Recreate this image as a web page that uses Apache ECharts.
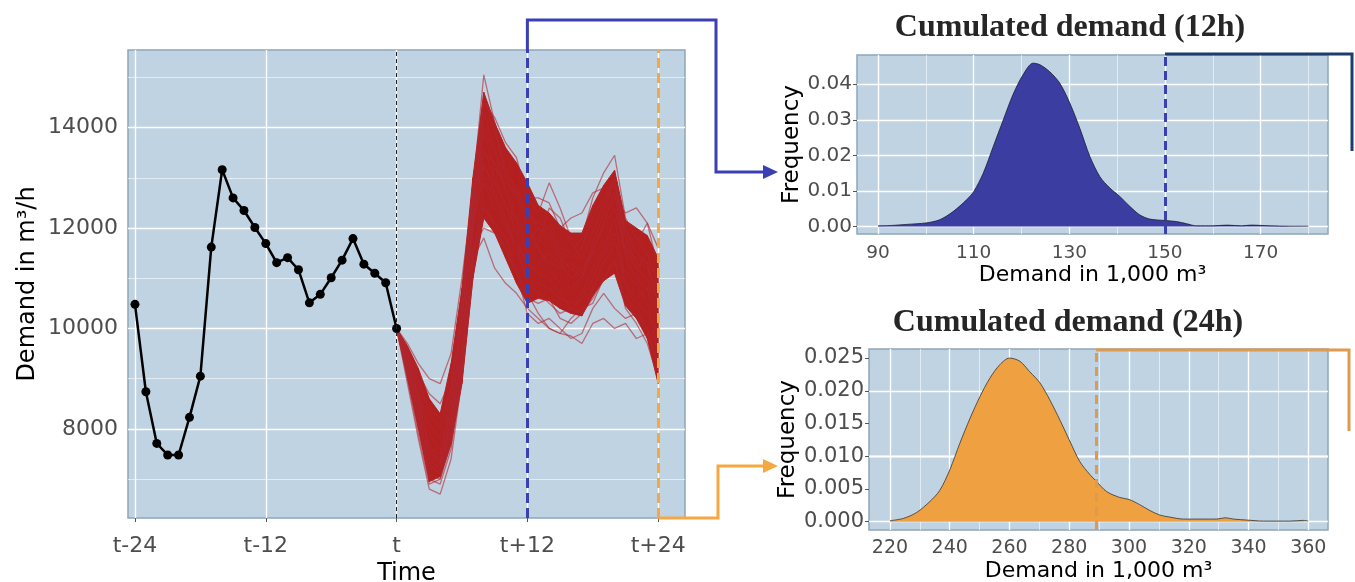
<!DOCTYPE html>
<html>
<head>
<meta charset="utf-8">
<script src="https://cdn.jsdelivr.net/npm/echarts@6/dist/echarts.min.js"></script>
<style>
html, body { margin: 0; padding: 0; background: #fff; }
#main { width: 1355px; height: 582px; }
</style>
</head>
<body>
<div id="main"></div>
<script>
// observed demand, t-24 .. t
var hoursPast = [-24,-23,-22,-21,-20,-19,-18,-17,-16,-15,-14,-13,-12,-11,-10,-9,-8,-7,-6,-5,-4,-3,-2,-1,0];
var observed = [10480,8740,7710,7480,7480,8230,9050,11620,13160,12600,12350,12010,11690,11310,11410,11170,10510,10680,11010,11360,11790,11280,11100,10910,10000];

// forecast scenarios, t .. t+24
var hoursAhead = [0,1,2,3,4,5,6,7,8,9,10,11,12,13,14,15,16,17,18,19,20,21,22,23,24];
var bandLow  = [10000,9000,8000,6950,7050,7700,8900,11000,12200,11900,11400,10900,10500,10600,10550,10400,10300,10250,10650,10950,11100,10450,10200,9800,8900];
var bandHigh = [10000,9650,9200,8600,8300,9300,10800,13000,14700,14100,13600,13300,12900,12450,12300,12050,11900,11900,12450,12850,13150,12150,12000,11850,11400];
var scenarios = [
  [10000,9500,8600,7500,7400,8600,10400,12800,15050,14100,13000,12600,12300,12100,12000,11600,11500,11800,12600,13100,13450,12200,11800,11500,10900],
  [10000,9700,9300,9000,8900,9500,11000,12700,13900,13200,12900,12700,12600,12300,12900,12400,11800,11600,12400,12800,12800,11900,11700,12100,11200],
  [10000,8900,7800,6800,6700,7400,9000,11000,12500,12000,11600,11100,10700,10300,10000,9900,10200,10400,10500,11000,11400,10400,10100,9700,9000],
  [10000,9200,8300,7400,7200,8000,9500,11400,11800,11200,10900,10700,10400,10200,10000,9900,9850,9700,10100,10200,10000,10100,9800,9900,9300],
  [10000,9400,8700,7900,7600,8400,10100,12400,14300,13600,12700,12100,11500,11700,12400,12200,11700,11400,11900,12500,13000,11800,11300,11200,10500],
  [10000,9300,8500,7700,7300,8100,9700,11900,13300,12700,12200,11500,11000,10900,10800,10600,10500,10700,11200,11600,12200,10900,10600,10800,9800],
  [10000,9600,9000,8300,8000,8800,10500,12900,14500,14200,13700,13400,12600,12600,12500,12000,12200,12300,12700,12800,12600,12300,12400,12100,11600],
  [10000,9100,8100,7100,7000,7800,9200,11300,12900,12400,12000,11700,11300,11100,11000,10700,10400,10300,10800,11300,11700,11100,10900,10500,9500],
  [10000,9500,8800,8100,7800,8700,10300,12100,13600,13000,12400,12200,12100,11600,11300,11200,11300,11100,11600,12000,12400,11600,11200,11500,10800],
  [10000,9400,8600,7600,7500,8300,10000,11600,12000,11900,11600,11100,10300,10100,10200,10000,9800,9900,10400,10700,10400,10200,10300,10000,9600],
  [10000,9200,8400,7300,7100,7900,9600,12000,14000,13500,13100,12800,12300,12000,11800,11400,11200,11000,11500,12100,12700,11400,11000,10800,10200],
  [10000,9600,9100,8700,8500,9000,10600,12500,13200,12900,12500,11900,11100,11300,11500,11300,11000,11200,11500,11700,11900,11600,11400,11300,10700],
  [10000,9000,7900,6900,7000,7700,9300,12200,14700,13900,13200,12700,12000,11600,11200,10900,10800,11000,11700,12300,13000,11500,11200,11000,10300],
  [10000,9300,8400,7200,7300,8200,10200,12600,13500,13300,12800,12200,11700,12000,11900,11500,11400,11600,12200,12600,12900,12000,11500,11300,10500],
  [10000,9500,8900,8400,8200,8800,10200,12200,13000,12600,12100,11700,10900,10700,10500,10300,10400,10600,11000,11500,11800,10800,10500,10300,9900],
  [10000,9100,8200,7000,6900,7600,9100,11500,12400,12100,11800,11200,10600,10500,10600,10200,10100,10300,10600,11000,11300,10600,10400,10000,9200]
];
var timeTicks = [-24,-12,0,12,24];
var timeTickLabels = ['t-24','t-12','t','t+12','t+24'];
var demandTicks = [8000,10000,12000,14000];
var demandMinor = [7000,9000,11000,13000,15000];

// cumulated demand densities
var demand12 = [90,92.8,96,100,102.9,105.7,108.5,110,112,114.1,116.2,118.2,120.3,122.4,123.8,125.9,128,130.1,132.2,134.3,136.4,138.5,140.6,142.7,144.7,146.8,150,152.4,154.5,156.6,160,163,166,168,172,176,180];
var freq12 = [0.0002,0.0003,0.0006,0.001,0.0019,0.0042,0.0075,0.0098,0.015,0.0225,0.030,0.037,0.0426,0.0459,0.0455,0.0435,0.0403,0.0347,0.0276,0.0197,0.014,0.0108,0.0084,0.0056,0.0033,0.0021,0.0017,0.0014,0.0008,0.0002,0.0002,0.0004,0.0002,0.0004,0.0002,0.0001,0.0001];
var demand24 = [220,224.5,228.9,233.4,236.7,240,243.4,246.8,250.1,253.4,256.8,260,263.5,266.8,270.2,273.5,276.9,280,283.5,286.9,289,292.5,296.9,300,303.6,307,310.4,313.7,318.2,323.8,329.4,332.2,335,339.4,345,353.8,358.2,360];
var freq24 = [0.00015,0.0005,0.0014,0.0031,0.0048,0.0079,0.012,0.0158,0.0191,0.0219,0.024,0.025,0.0245,0.0229,0.0212,0.0186,0.0155,0.0125,0.0092,0.0072,0.0062,0.0046,0.0037,0.0034,0.0026,0.0017,0.001,0.0007,0.0004,0.0004,0.0004,0.0006,0.0004,0.00025,0.0001,0.0001,0.0002,0.0001];
var ticks12 = [90,110,130,150,170];
var minor12 = [100,120,140,160,180];
var freqTicks12 = [0,0.01,0.02,0.03,0.04];
var freqMinor12 = [0.005,0.015,0.025,0.035,0.045];
var ticks24 = [220,240,260,280,300,320,340,360];
var minor24 = [230,250,270,290,310,330,350];
var freqTicks24 = [0,0.005,0.01,0.015,0.02,0.025];
var freqMinor24 = [0.0025,0.0075,0.0125,0.0175,0.0225];
var cut12 = 150;
var cut24 = 289;

var panelBg = '#bfd3e2';
var blue = '#3a3fb2';
var orange = '#f5a742';
var orange2 = '#e09a4e';
var navy = '#1d3d6e';
var tickFont = 'DejaVu Sans';

function pairs(xs, ys) {
  return xs.map(function (x, i) { return [x, ys[i]]; });
}

// white ggplot-style grid lines, as markLines (kept under the data)
function gridLines(xMajor, xMinor, yMajor, yMinor) {
  var d = [];
  xMinor.forEach(function (v) { d.push({ xAxis: v, lineStyle: { color: '#f2f6f9', width: 0.7, type: 'solid' } }); });
  yMinor.forEach(function (v) { d.push({ yAxis: v, lineStyle: { color: '#f2f6f9', width: 0.7, type: 'solid' } }); });
  xMajor.forEach(function (v) { d.push({ xAxis: v, lineStyle: { color: '#ffffff', width: 1.4, type: 'solid' } }); });
  yMajor.forEach(function (v) { d.push({ yAxis: v, lineStyle: { color: '#ffffff', width: 1.4, type: 'solid' } }); });
  return { z: 1, silent: true, symbol: 'none', label: { show: false }, animation: false, data: d };
}

function cutLines(items) {
  return { z: 10, silent: true, symbol: 'none', label: { show: false }, animation: false, data: items };
}

function valueAxis(idx, min, max, ticks, fmt, fontSize, margin, name, nameGap, nameSize, vertical) {
  return {
    type: 'value', gridIndex: idx, min: min, max: max,
    name: name, nameLocation: 'middle', nameGap: nameGap, nameRotate: vertical ? 90 : 0,
    nameTextStyle: { fontFamily: tickFont, fontSize: nameSize, color: '#000' },
    axisLine: { show: false },
    axisTick: { show: true, customValues: ticks, length: 4, lineStyle: { color: '#555', width: 1 } },
    axisLabel: { customValues: ticks, formatter: fmt, fontFamily: tickFont, fontSize: fontSize, color: '#4d4d4d', margin: margin },
    splitLine: { show: false }
  };
}

// dense part of the scenario bundle, drawn as a filled band between bandLow and bandHigh
function renderBand(params, api) {
  var i = params.dataIndex;
  if (i >= hoursAhead.length - 1) return null;
  var pts = [
    api.coord([hoursAhead[i], bandLow[i]]),
    api.coord([hoursAhead[i + 1], bandLow[i + 1]]),
    api.coord([hoursAhead[i + 1], bandHigh[i + 1]]),
    api.coord([hoursAhead[i], bandHigh[i]])
  ];
  return {
    type: 'polygon',
    shape: { points: pts },
    style: { fill: '#b41f1f', stroke: '#b41f1f', lineWidth: 1 }
  };
}

var chart = echarts.init(document.getElementById('main'));

var series = [
  { type: 'line', xAxisIndex: 0, yAxisIndex: 0, data: [], z: 1, markLine: gridLines(timeTicks, [], demandTicks, demandMinor) },
  { type: 'line', xAxisIndex: 1, yAxisIndex: 1, data: [], z: 1, markLine: gridLines(ticks12, minor12, freqTicks12, freqMinor12) },
  { type: 'line', xAxisIndex: 2, yAxisIndex: 2, data: [], z: 1, markLine: gridLines(ticks24, minor24, freqTicks24, freqMinor24) },
  {
    type: 'custom', xAxisIndex: 0, yAxisIndex: 0, renderItem: renderBand, z: 2, silent: true,
    data: hoursAhead.map(function (h, i) { return [h, bandLow[i], bandHigh[i]]; }),
    encode: { x: 0, y: [1, 2] }
  }
];
scenarios.forEach(function (s) {
  series.push({ type: 'line', xAxisIndex: 0, yAxisIndex: 0, data: pairs(hoursAhead, s), symbol: 'none', lineStyle: { color: 'rgba(176,40,48,0.6)', width: 1.3 }, z: 3, silent: true });
});
series.push({
  type: 'line', xAxisIndex: 0, yAxisIndex: 0, data: pairs(hoursPast, observed),
  symbol: 'circle', symbolSize: 9, itemStyle: { color: '#000' }, lineStyle: { color: '#000', width: 2.5 }, z: 4
});
series.push({
  type: 'line', xAxisIndex: 0, yAxisIndex: 0, data: [], z: 5,
  markLine: cutLines([
    { xAxis: 0, lineStyle: { color: '#222', width: 1, type: [4, 3] } },
    { xAxis: 12, lineStyle: { color: blue, width: 3, type: [10, 5] } },
    { xAxis: 24, lineStyle: { color: orange, width: 3, type: [10, 5] } }
  ])
});
series.push({
  type: 'line', xAxisIndex: 1, yAxisIndex: 1, data: pairs(demand12, freq12), symbol: 'none', smooth: 0.3,
  lineStyle: { color: '#1a1a3a', width: 0.8 }, areaStyle: { color: '#3b3da1', opacity: 1 }, z: 2,
  markLine: cutLines([{ xAxis: cut12, lineStyle: { color: blue, width: 3, type: [9, 5] } }])
});
series.push({
  type: 'line', xAxisIndex: 2, yAxisIndex: 2, data: pairs(demand24, freq24), symbol: 'none', smooth: 0.3,
  lineStyle: { color: '#333', width: 0.8 }, areaStyle: { color: '#efa040', opacity: 1 }, z: 2,
  markLine: cutLines([{ xAxis: cut24, lineStyle: { color: orange2, width: 3, type: [9, 5] } }])
});

chart.setOption({
  animation: false,
  backgroundColor: '#fff',
  grid: [
    { left: 128, top: 50, width: 557, height: 468, outerBoundsMode: 'none', containLabel: false, show: true, backgroundColor: panelBg, borderColor: '#8ea6b8', borderWidth: 1.5 },
    { left: 857, top: 55, width: 471, height: 179, outerBoundsMode: 'none', containLabel: false, show: true, backgroundColor: panelBg, borderColor: '#8ea6b8', borderWidth: 1.5 },
    { left: 869, top: 349, width: 459, height: 181, outerBoundsMode: 'none', containLabel: false, show: true, backgroundColor: panelBg, borderColor: '#8ea6b8', borderWidth: 1.5 }
  ],
  xAxis: [
    valueAxis(0, -24.64, 26.46, timeTicks, function (v) { return timeTickLabels[timeTicks.indexOf(v)]; }, 22, 17, 'Time', 43, 24, false),
    valueAxis(1, 85.6, 184.1, ticks12, function (v) { return String(v); }, 18.5, 10, 'Demand in 1,000 m³', 30, 22, false),
    valueAxis(2, 212.98, 366.6, ticks24, function (v) { return String(v); }, 19, 9, 'Demand in 1,000 m³', 30, 22, false)
  ],
  yAxis: [
    valueAxis(0, 6225, 15546, demandTicks, function (v) { return String(v); }, 22, 10, 'Demand in m³/h', 88, 24, true),
    valueAxis(1, -0.0021, 0.0482, freqTicks12, function (v) { return v.toFixed(2); }, 20, 5, 'Frequency', 47, 23, true),
    valueAxis(2, -0.00127, 0.02638, freqTicks24, function (v) { return v.toFixed(3); }, 21, 5, 'Frequency', 63, 23, true)
  ],
  series: series
});

// connector arrows between panels
var x12 = chart.convertToPixel({ xAxisIndex: 0 }, 12);
var x24 = chart.convertToPixel({ xAxisIndex: 0 }, 24);
var xc12 = chart.convertToPixel({ xAxisIndex: 1 }, cut12);
var xc24 = chart.convertToPixel({ xAxisIndex: 2 }, cut24);

chart.setOption({
  graphic: [
    { type: 'polyline', z: 100, shape: { points: [[x12, 50], [x12, 20], [716, 20], [716, 172], [766, 172]] }, style: { stroke: blue, lineWidth: 3, fill: null } },
    { type: 'polygon', z: 100, shape: { points: [[763, 165], [778, 172], [763, 179]] }, style: { fill: blue } },
    { type: 'polyline', z: 100, shape: { points: [[x24, 518], [718, 518], [718, 466], [766, 466]] }, style: { stroke: orange, lineWidth: 3, fill: null } },
    { type: 'polygon', z: 100, shape: { points: [[763, 459], [778, 466], [763, 473]] }, style: { fill: orange } },
    { type: 'polyline', z: 100, shape: { points: [[xc12, 54], [1352, 54], [1352, 151]] }, style: { stroke: navy, lineWidth: 3, fill: null } },
    { type: 'polyline', z: 100, shape: { points: [[xc24, 350], [1349, 350], [1349, 431]] }, style: { stroke: orange2, lineWidth: 3, fill: null } },
    { type: 'text', z: 100, x: 1070, y: 28, style: { text: 'Cumulated demand (12h)', fontFamily: 'Liberation Serif', fontWeight: 'bold', fontSize: 32, fill: '#262626', textAlign: 'center', textVerticalAlign: 'middle' } },
    { type: 'text', z: 100, x: 1068, y: 323, style: { text: 'Cumulated demand (24h)', fontFamily: 'Liberation Serif', fontWeight: 'bold', fontSize: 32, fill: '#262626', textAlign: 'center', textVerticalAlign: 'middle' } }
  ]
});
</script>
</body>
</html>
